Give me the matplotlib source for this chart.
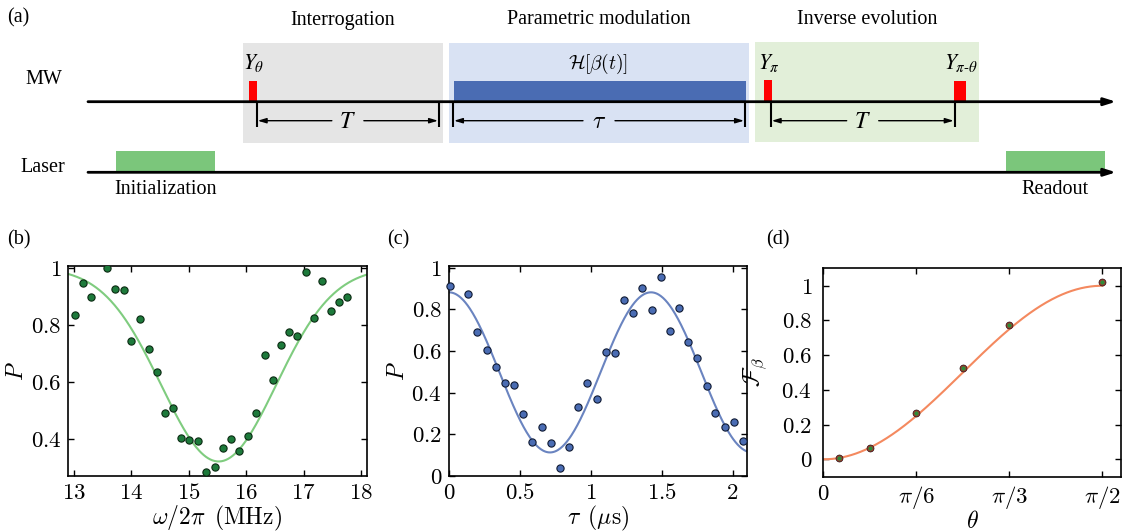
import numpy as np
import matplotlib
matplotlib.use('Agg')
import matplotlib.pyplot as plt
from matplotlib.patches import Rectangle
from matplotlib.ticker import FixedLocator, FixedFormatter

plt.rcParams['mathtext.fontset'] = 'cm'
plt.rcParams['font.family'] = ['Liberation Serif', 'DejaVu Serif']

# ---------------- data: panel (b) ----------------
b_freq = [13.01, 13.15, 13.29, 13.58, 13.72, 13.87, 14.00, 14.15, 14.30, 14.44,
          14.58, 14.73, 14.87, 15.01, 15.16, 15.30, 15.45, 15.59, 15.74, 15.88,
          16.03, 16.17, 16.32, 16.46, 16.61, 16.75, 16.89, 17.04, 17.18, 17.33,
          17.47, 17.61, 17.76]
b_P = [0.834, 0.945, 0.896, 1.000, 0.924, 0.923, 0.743, 0.820, 0.715, 0.633,
       0.491, 0.506, 0.403, 0.394, 0.392, 0.284, 0.302, 0.366, 0.400, 0.357,
       0.411, 0.491, 0.695, 0.606, 0.727, 0.774, 0.760, 0.985, 0.825, 0.954,
       0.848, 0.881, 0.898]
b_fit_center = 15.52
b_fit_sigma = 1.0
b_fit_depth = 0.68

# ---------------- data: panel (c) ----------------
c_tau = [0.007, 0.136, 0.200, 0.266, 0.329, 0.395, 0.461, 0.524, 0.588, 0.653,
         0.717, 0.783, 0.846, 0.912, 0.975, 1.041, 1.105, 1.170, 1.234, 1.300,
         1.363, 1.429, 1.495, 1.558, 1.622, 1.687, 1.751, 1.817, 1.880, 1.946,
         2.009, 2.075]
c_P = [0.912, 0.872, 0.692, 0.604, 0.521, 0.446, 0.436, 0.295, 0.162, 0.232,
       0.155, 0.038, 0.136, 0.329, 0.446, 0.370, 0.595, 0.590, 0.846, 0.782,
       0.905, 0.795, 0.957, 0.697, 0.806, 0.641, 0.567, 0.431, 0.303, 0.232,
       0.258, 0.168]
c_fit_period = 1.425
c_fit_offset = 0.497
c_fit_amp = 0.385

# ---------------- data: panel (d) ----------------
d_theta_deg = [5, 15, 30, 45, 60, 90]
d_F = [0.010, 0.063, 0.267, 0.528, 0.774, 1.019]

# ---------------- schematic (a) layout (pixel units) ----------------
mw_y = 101.7
laser_y = 172.3
line_x0, line_x1 = 88, 1116
stage_boxes = [  # x0, x1, y0, y1, color, title
    (242.7, 443.0, 42.7, 142.7, '#e5e5e5', 'Interrogation'),
    (449.0, 749.0, 42.7, 142.7, '#d9e2f3', 'Parametric modulation'),
    (754.7, 979.0, 42.0, 141.7, '#e2efd9', 'Inverse evolution'),
]
laser_boxes = [(116, 215, 'Initialization'), (1006, 1105, 'Readout')]
pulses = [  # x0, x1, top, label
    (249.0, 256.7, 80.7, r'$Y_{\theta}$'),
    (764.0, 772.0, 80.0, r'$Y_{\pi}$'),
    (954.0, 966.0, 81.0, r'$Y_{\pi\text{-}\theta}$'),
]
spans = [  # x0, x1, label, fontset
    (256.7, 439.0, r'$T$', 'stix'),
    (453.0, 745.0, r'$\tau$', 'cm'),
    (770.7, 954.7, r'$T$', 'stix'),
]

TXT = 14.5
fig = plt.figure(figsize=(11.23, 5.31), dpi=100)
ax0 = fig.add_axes([0, 0, 1, 1], zorder=0)
ax0.set_xlim(0, 1123)
ax0.set_ylim(531, 0)
ax0.axis('off')

for x0, x1, y0, y1, col, title in stage_boxes:
    ax0.add_patch(Rectangle((x0, y0), x1 - x0, y1 - y0, facecolor=col, edgecolor='none', zorder=1))
    ax0.text((x0 + x1) / 2, 20, title, ha='center', va='center', fontsize=TXT)

# modulation bar
ax0.add_patch(Rectangle((454, 81), 746 - 454, mw_y - 81, facecolor='#4a6cb3', edgecolor='none', zorder=2))
ax0.text(598, 64, r'$\mathcal{H}[\beta(t)]$', ha='center', va='center', fontsize=14)

for x0, x1, top, lab in pulses:
    ax0.add_patch(Rectangle((x0, top), x1 - x0, mw_y - top, facecolor='#ff0000', edgecolor='none', zorder=2))
    ax0.text((x0 + x1) / 2 + 1, 63, lab, ha='center', va='center', fontsize=15.5,
             math_fontfamily='stix')

for x0, x1, lab in laser_boxes:
    ax0.add_patch(Rectangle((x0, 150.5), x1 - x0, laser_y - 150.5, facecolor='#7bc67b', edgecolor='none', zorder=2))
    ax0.text((x0 + x1) / 2, 189, lab, ha='center', va='center', fontsize=TXT)

# main lines with arrows
for yy in (mw_y, laser_y):
    ax0.annotate('', xy=(line_x1, yy), xytext=(line_x0, yy),
                 arrowprops=dict(arrowstyle='-|>,head_length=0.7,head_width=0.22',
                                 lw=2.0, color='black', shrinkA=0, shrinkB=0), zorder=3)

# dimension spans
for x0, x1, lab, fs in spans:
    for xx in (x0, x1):
        ax0.plot([xx, xx], [mw_y, 127], color='black', lw=1.5, zorder=3, solid_capstyle='butt')
    xc = (x0 + x1) / 2
    yy = 120.7
    ax0.annotate('', xy=(x0 + 1, yy), xytext=(xc - 16, yy),
                 arrowprops=dict(arrowstyle='-|>,head_length=0.5,head_width=0.15', lw=1.0,
                                 color='black', shrinkA=0, shrinkB=0), zorder=3)
    ax0.annotate('', xy=(x1 - 1, yy), xytext=(xc + 16, yy),
                 arrowprops=dict(arrowstyle='-|>,head_length=0.5,head_width=0.15', lw=1.0,
                                 color='black', shrinkA=0, shrinkB=0), zorder=3)
    ax0.text(xc, yy + 1.5, lab, ha='center', va='center', fontsize=17, math_fontfamily=fs)

ax0.text(7, 18, '(a)', ha='left', va='center', fontsize=TXT)
ax0.text(44, 80, 'MW', ha='center', va='center', fontsize=TXT)
ax0.text(43, 168, 'Laser', ha='center', va='center', fontsize=TXT)
ax0.text(7, 240, '(b)', ha='left', va='center', fontsize=TXT)
ax0.text(387, 240, '(c)', ha='left', va='center', fontsize=TXT)
ax0.text(766, 240, '(d)', ha='left', va='center', fontsize=TXT)

TICK = 16.5
LAB = 17


def style(ax, xt, xl, yt, yl, ypad=5):
    ax.xaxis.set_major_locator(FixedLocator(xt))
    ax.xaxis.set_major_formatter(FixedFormatter(xl))
    ax.yaxis.set_major_locator(FixedLocator(yt))
    ax.yaxis.set_major_formatter(FixedFormatter(yl))
    ax.tick_params(direction='in', top=True, right=True, length=4, width=1.0,
                   labelsize=TICK)
    ax.tick_params(axis='x', pad=5)
    ax.tick_params(axis='y', pad=ypad)
    for s in ax.spines.values():
        s.set_linewidth(1.2)


# ---------------- panel (b) ----------------
axb = fig.add_axes([0.0608, 0.1041, 0.2657, 0.3955], zorder=2)
xb = np.linspace(12.9, 18.1, 400)
axb.plot(xb, 1 - b_fit_depth * np.exp(-(xb - b_fit_center) ** 2 / (2 * b_fit_sigma ** 2)),
         color='#7fcc7f', lw=1.5, zorder=2)
axb.plot(b_freq, b_P, 'o', ms=5.2, mfc='#1d7a3b', mec='#0b2a12', mew=0.8, zorder=3)
axb.set_xlim(12.9, 18.1)
axb.set_ylim(0.27, 1.007)
style(axb, [13, 14, 15, 16, 17, 18], [r'$13$', r'$14$', r'$15$', r'$16$', r'$17$', r'$18$'],
      [0.4, 0.6, 0.8, 1.0], [r'$0.4$', r'$0.6$', r'$0.8$', r'$1$'])
axb.set_xlabel(r'$\omega/2\pi\ \, (\mathrm{MHz})$', fontsize=LAB, labelpad=0)
axb.set_ylabel(r'$P$', fontsize=LAB, labelpad=2)

# ---------------- panel (c) ----------------
axc = fig.add_axes([0.3998, 0.1041, 0.2651, 0.3955], zorder=2)
xc_ = np.linspace(0, 2.1, 400)
axc.plot(xc_, c_fit_offset + c_fit_amp * np.cos(2 * np.pi * xc_ / c_fit_period),
         color='#6a84c0', lw=1.5, zorder=2)
axc.plot(c_tau, c_P, 'o', ms=5.2, mfc='#4a6cb3', mec='#0f1a33', mew=0.8, zorder=3,
         clip_on=False)
axc.set_xlim(0, 2.1)
axc.set_ylim(0, 1.01)
style(axc, [0, 0.5, 1, 1.5, 2], [r'$0$', r'$0.5$', r'$1$', r'$1.5$', r'$2$'],
      [0, 0.2, 0.4, 0.6, 0.8, 1.0], [r'$0$', r'$0.2$', r'$0.4$', r'$0.6$', r'$0.8$', r'$1$'])
axc.set_xlabel(r'$\tau\ \, (\mu\mathrm{s})$', fontsize=LAB, labelpad=0)
axc.set_ylabel(r'$P$', fontsize=LAB, labelpad=2)

# ---------------- panel (d) ----------------
axd = fig.add_axes([0.7331, 0.1023, 0.2651, 0.3936], zorder=2)
th = np.linspace(0, np.pi / 2, 300)
axd.plot(th, np.sin(th) ** 2, color='#f4895f', lw=1.5, zorder=2)
d_theta = np.deg2rad(d_theta_deg)
axd.plot(d_theta, d_F, 'o', ms=4.2, mfc='#2e8b3a', mec='#b0302a', mew=1.0, zorder=3)
axd.plot(d_theta, d_F, 'o', ms=5.0, mfc='none', mec='#222222', mew=0.5, zorder=3)
axd.set_xlim(0, 3.2 * np.pi / 6)
axd.set_ylim(-0.1, 1.104)
style(axd, [0, np.pi / 6, np.pi / 3, np.pi / 2], [r'$0$', r'$\pi/6$', r'$\pi/3$', r'$\pi/2$'],
      [0, 0.2, 0.4, 0.6, 0.8, 1.0], [r'$0$', r'$0.2$', r'$0.4$', r'$0.6$', r'$0.8$', r'$1$'],
      ypad=8)
axd.set_xlabel(r'$\theta$', fontsize=LAB, labelpad=0)
axd.set_ylabel(r'$\mathcal{F}_{\beta}$', fontsize=LAB, labelpad=9)

fig.savefig('out.png', dpi=100)
